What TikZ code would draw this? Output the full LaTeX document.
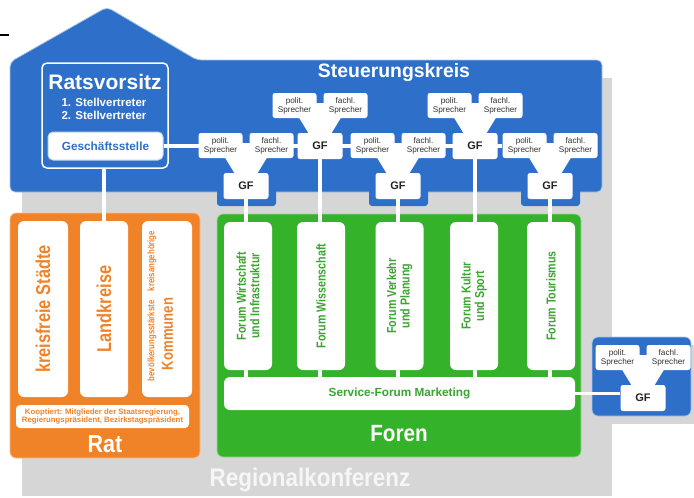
\documentclass[tikz,border=0pt]{standalone}
\usepackage{fontspec}
\setmainfont{Liberation Sans}
\newfontfamily\normf{Liberation Sans}
\newfontfamily\condf[FakeStretch=0.88]{Liberation Sans}
\newfontfamily\narrowf[FakeStretch=0.82]{Liberation Sans}
\definecolor{bluec}{RGB}{46,112,201}
\definecolor{orangec}{RGB}{240,131,40}
\definecolor{greenc}{RGB}{52,178,42}
\definecolor{grayc}{RGB}{214,214,214}
\definecolor{greentx}{RGB}{58,165,48}
\definecolor{txtdark}{RGB}{50,50,50}
\pgfdeclarelayer{back}
\pgfdeclarelayer{mid}
\pgfsetlayers{back,mid,main}
\newcommand\myfs[2]{\fontsize{#1}{#2}\selectfont}
\tikzset{
  conn/.style={white, line width=3.6pt},
  wbox/.style={fill=white, rounded corners=5pt, inner sep=0pt, align=center},
  spkbox/.style={wbox, rounded corners=2.5pt, minimum width=44pt, minimum height=25pt,
    font=\normf\myfs{8.2}{9.2}, text=txtdark},
  gfbox/.style={wbox, rounded corners=2.5pt, minimum width=45pt, minimum height=26pt,
    font=\normf\bfseries\myfs{11}{11}, text=black!85},
  colbox/.style={wbox, rounded corners=6pt, minimum width=#1, minimum height=176pt},
  fbox/.style={wbox, rounded corners=6pt, minimum width=48pt, minimum height=148pt},
  ftext/.style={rotate=90, align=center, font=\narrowf\bfseries\myfs{13}{13.5}, text=greentx, inner sep=0pt},
  otext/.style={rotate=90, align=center, font=\narrowf\bfseries\myfs{20}{20}, text=orangec, inner sep=0pt},
  bigw/.style={font=\normf\bfseries\myfs{#1}{#1}, text=white, inner sep=0pt},
  bigc/.style={font=\condf\bfseries\myfs{#1}{#1}, text=white, inner sep=0pt},
}
\newcommand\spkgroup[3]{%
  \fill[white] (#2-8,#3+10) rectangle (#2+8,#3+25);
  \fill[white] (#2-22,#3+23) -- (#2+22,#3+23) -- (#2+11,#3+41) -- (#2-11,#3+41) -- cycle;
  \node[spkbox] (#1p) at (#2-25.5,#3+12.5) {polit.\\Sprecher};
  \node[spkbox] (#1f) at (#2+25.5,#3+12.5) {fachl.\\Sprecher};
  \node[gfbox] (#1g) at (#2,#3+53) {GF};
}
\begin{document}
\begin{tikzpicture}[x=1pt,y=-1pt]
\useasboundingbox (0,0) rectangle (694,498);
\begin{pgfonlayer}{back}
  % Regionalkonferenz background
  \fill[grayc] (22,78) rectangle (612,496);
  \fill[grayc] (597,345) rectangle (694,424);
  % blue Steuerungskreis shape
  \fill[bluec, draw=bluec!40!white, line width=0.8pt, rounded corners=5pt]
    (10,62) -- (107,7) -- (197,60) -- (602,60) -- (602,192) -- (10,192) -- cycle;
  \fill[bluec, rounded corners=3pt] (217,168) rectangle (276,206);
  \fill[bluec, rounded corners=3pt] (369,168) rectangle (428,206);
  \fill[bluec, rounded corners=3pt] (521,168) rectangle (580,206);
  \node[fill=bluec, draw=bluec!40!white, line width=0.8pt, rounded corners=6pt, inner sep=0pt,
    minimum width=99pt, minimum height=79pt] (rbox) at (641.5,376.5) {};
  % Rat and Foren frames
  \node[fill=orangec, draw=orangec!50!white, line width=0.8pt, rounded corners=6pt, inner sep=0pt,
    minimum width=190pt, minimum height=245pt] (rat) at (105,335.5) {};
  \node[fill=greenc, draw=greenc!50!white, line width=0.8pt, rounded corners=6pt, inner sep=0pt,
    minimum width=364pt, minimum height=243pt] (foren) at (399,335.5) {};
\end{pgfonlayer}

\draw[black, line width=1.6pt] (0,35) -- (9,35);

% titles
\node[bigw=19.4] (stk) at (394,73) {Steuerungskreis};
\node[font=\condf\bfseries\myfs{25.5}{25.5}, text=white!93!gray, inner sep=0pt] (rk) at (310,480) {Regionalkonferenz};
\node[bigc=24.5] (ratl) at (105,444) {Rat};
\node[bigc=23.5] (forl) at (399,434) {Foren};

% Ratsvorsitz
\node[draw=white, line width=1.5pt, rounded corners=5pt, inner sep=0pt,
  minimum width=126pt, minimum height=105pt] (rv) at (105,115.5) {};
\node[bigw=21] (rvt) at (105,82) {Ratsvorsitz};
\node[font=\normf\bfseries\myfs{11.5}{13}, text=white, align=center, inner sep=0pt] (stv) at (104,108.5)
  {1. Stellvertreter\\2. Stellvertreter};
\node[wbox, draw=bluec!30!white, line width=1pt, minimum width=115pt, minimum height=28pt,
  font=\normf\bfseries\myfs{11.8}{12}, text=bluec] (gs) at (105.5,146) {Geschäftsstelle};

% speaker groups
\spkgroup{U1}{320}{93}
\spkgroup{U2}{475}{93}
\spkgroup{L1}{246}{133}
\spkgroup{L2}{398}{133}
\spkgroup{L3}{550}{133}
\spkgroup{R}{643}{345}

% Rat columns
\node[colbox=50pt] (ks) at (43,309) {};
\node[otext] (kst) at (ks) {kreisfreie Städte};
\node[colbox=48pt] (lk) at (104,309) {};
\node[otext] (lkt) at (lk) {Landkreise};
\node[colbox=50pt] (km) at (167,309) {};
\node[rotate=90, font=\narrowf\bfseries\myfs{9.5}{9.5}, text=orangec, inner sep=0pt] (kms) at (152,306)
  {bevölkerungsstärkste\quad kreisangehörige};
\node[rotate=90, font=\narrowf\bfseries\myfs{16}{16}, text=orangec, inner sep=0pt] (kmt) at (167.5,334) {Kommunen};
\node[wbox, rounded corners=4pt, minimum width=173pt, minimum height=23pt,
  font=\normf\bfseries\myfs{7.8}{8.6}, text=orangec] (koop) at (102.5,416.5)
  {Kooptiert: Mitglieder der Staatsregierung,\\Regierungspräsident, Bezirkstagspräsident};

% Foren columns
\node[fbox] (f1) at (248,296) {};
\node[ftext] (f1t) at (f1) {Forum Wirtschaft\\und Infrastruktur};
\node[fbox] (f2) at (321,296) {};
\node[ftext] (f2t) at (f2) {Forum Wissenschaft};
\node[fbox] (f3) at (399.5,296) {};
\node[ftext] (f3t) at (f3) {Forum Verkehr\\und Planung};
\node[fbox] (f4) at (474,296) {};
\node[ftext] (f4t) at (f4) {Forum Kultur\\und Sport};
\node[fbox] (f5) at (551,296) {};
\node[ftext] (f5t) at (f5) {Forum Tourismus};
\node[wbox, rounded corners=6pt, minimum width=351pt, minimum height=33pt,
  font=\normf\bfseries\myfs{11.8}{12}, text=greentx] (svc) at (399.5,393.5) {Service-Forum Marketing};

% connectors
\begin{pgfonlayer}{mid}
  \draw[conn] (gs.east) -- (gs.east -| L3p.west);
  \draw[conn] (lk.north |- rv.south) -- (lk.north);
  \draw[conn] (L1g.south) -- (L1g.south |- svc.north);
  \draw[conn] (U1g.south) -- (U1g.south |- svc.north);
  \draw[conn] (L2g.south) -- (L2g.south |- svc.north);
  \draw[conn] (U2g.south) -- (U2g.south |- svc.north);
  \draw[conn] (L3g.south) -- (L3g.south |- svc.north);
  \draw[conn] (svc.east) -- (svc.east -| Rg.west);
\end{pgfonlayer}
\end{tikzpicture}
\end{document}
